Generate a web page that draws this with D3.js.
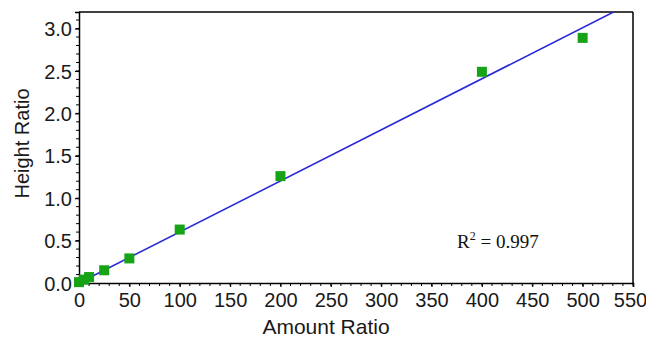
<!DOCTYPE html>
<html>
<head>
<meta charset="utf-8">
<script src="https://cdn.jsdelivr.net/npm/d3@7"></script>
<style>
  html, body { margin: 0; padding: 0; background: #fff; }
  svg { display: block; }
</style>
</head>
<body>
<div id="chart"></div>
<script>
// Calibration: amount ratio vs. measured height ratio
const amountRatio = [0, 5, 10, 25, 50, 100, 200, 400, 500];
const heightRatio = [0.01, 0.04, 0.07, 0.15, 0.29, 0.63, 1.26, 2.49, 2.89];

// Fitted calibration line (height = slope * amount + intercept)
const fitSlope = [0.00602];
const fitIntercept = [0.0];
const rSquared = ["0.997"];

const xTicks = [0, 50, 100, 150, 200, 250, 300, 350, 400, 450, 500, 550];
const yTicks = [0.0, 0.5, 1.0, 1.5, 2.0, 2.5, 3.0];

const W = 646, H = 342;
const margin = { left: 79, top: 12, right: 13, bottom: 59 };
const pw = W - margin.left - margin.right;
const ph = H - margin.top - margin.bottom;

const svg = d3.select("#chart").append("svg")
  .attr("width", W).attr("height", H);

const g = svg.append("g").attr("transform", `translate(${margin.left},${margin.top})`);

const x = d3.scaleLinear().domain([0, 550]).range([0, pw]);
const y = d3.scaleLinear().domain([0, 3.195]).range([ph, 0]);

const font = '"Liberation Sans", Arial, sans-serif';

// Clip region for the fit line
svg.append("defs").append("clipPath").attr("id", "plotClip")
  .append("rect").attr("width", pw).attr("height", ph);

// Minor ticks
const xMinor = d3.range(0, 551, 10);
const yMinor = d3.range(0, 3.2, 0.1);
g.append("g").selectAll("line").data(xMinor).join("line")
  .attr("x1", d => x(d)).attr("x2", d => x(d))
  .attr("y1", ph).attr("y2", ph + 3)
  .attr("stroke", "#000").attr("stroke-width", 1);
g.append("g").selectAll("line").data(yMinor).join("line")
  .attr("x1", -3).attr("x2", 0)
  .attr("y1", d => y(d)).attr("y2", d => y(d))
  .attr("stroke", "#000").attr("stroke-width", 1);

// Axes
const xAxis = g.append("g").attr("transform", `translate(0,${ph})`)
  .call(d3.axisBottom(x).tickValues(xTicks).tickFormat(d3.format("d")).tickSize(4).tickPadding(6));
const yAxis = g.append("g")
  .call(d3.axisLeft(y).tickValues(yTicks).tickFormat(d3.format(".1f")).tickSize(4).tickPadding(3));

[xAxis, yAxis].forEach(a => {
  a.select(".domain").attr("stroke", "#000").attr("stroke-width", 1.5);
  a.selectAll(".tick line").attr("stroke", "#000").attr("stroke-width", 1.2);
  a.selectAll(".tick text").attr("fill", "#1a1a1a").style("font-size", "20px").style("font-family", font);
});
yAxis.selectAll(".tick text").attr("dy", "0.36em");
// keep the last x label inside the window
xAxis.selectAll(".tick text").filter(d => d === 550).attr("dx", -3);

// Top and right frame
g.append("line").attr("x1", 0).attr("x2", pw).attr("y1", 0).attr("y2", 0)
  .attr("stroke", "#000").attr("stroke-width", 1.5);
g.append("line").attr("x1", pw).attr("x2", pw).attr("y1", 0).attr("y2", ph)
  .attr("stroke", "#000").attr("stroke-width", 1.5);

// Fit line
const line = d3.line().x(d => x(d)).y(d => y(fitSlope[0] * d + fitIntercept[0]));
g.append("path")
  .datum([0, 550])
  .attr("clip-path", "url(#plotClip)")
  .attr("d", line)
  .attr("fill", "none")
  .attr("stroke", "#2a2ad8")
  .attr("stroke-width", 1.6);

// Data markers
const s = 10;
g.append("g").selectAll("rect")
  .data(amountRatio.map((a, i) => [a, heightRatio[i]]))
  .join("rect")
  .attr("x", d => x(d[0]) - s / 2)
  .attr("y", d => y(d[1]) - s / 2)
  .attr("width", s).attr("height", s)
  .attr("fill", "#16a316");

// R-squared annotation
const rt = svg.append("text")
  .attr("x", 457).attr("y", 248)
  .attr("font-family", '"Liberation Serif", "Times New Roman", serif')
  .attr("font-size", 19).attr("fill", "#111");
rt.append("tspan").text("R");
rt.append("tspan").attr("font-size", 12).attr("dy", -8).text("2");
rt.append("tspan").attr("dy", 8).text(" = " + rSquared[0]);

// Axis titles
svg.append("text")
  .attr("x", 326).attr("y", 334)
  .attr("text-anchor", "middle")
  .attr("font-family", font).attr("font-size", 21).attr("fill", "#1a1a1a")
  .text("Amount Ratio");
svg.append("text")
  .attr("transform", `translate(29,${margin.top + ph / 2 - 4}) rotate(-90)`)
  .attr("text-anchor", "middle")
  .attr("font-family", font).attr("font-size", 20).attr("fill", "#1a1a1a")
  .text("Height Ratio");
</script>
</body>
</html>
